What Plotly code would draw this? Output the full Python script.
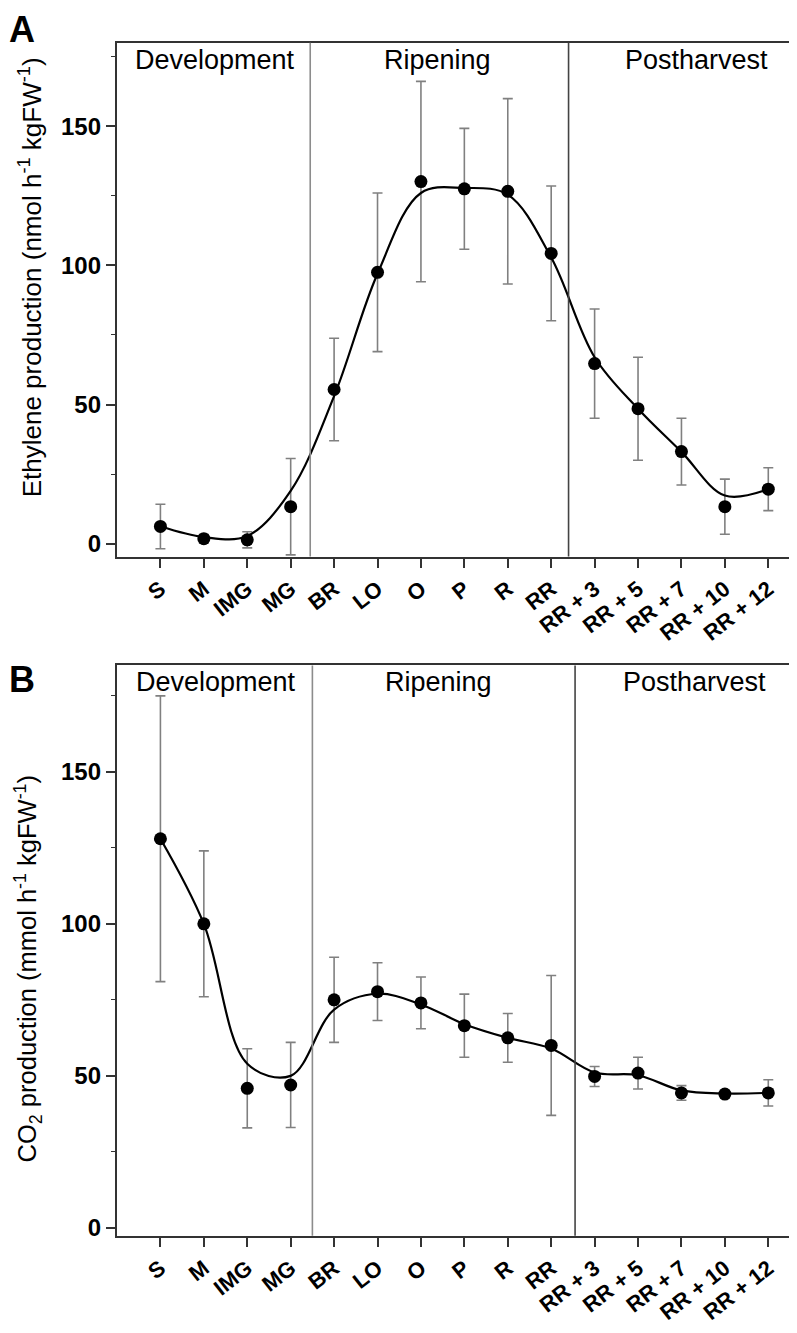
import plotly.graph_objects as go

stages = ["S", "M", "IMG", "MG", "BR", "LO", "O", "P", "R", "RR",
          "RR + 3", "RR + 5", "RR + 7", "RR + 10", "RR + 12"]
xpos = list(range(len(stages)))

# panel A - ethylene (nmol h-1 kgFW-1)
ethylene = [6.2, 1.8, 1.4, 13.3, 55.4, 97.5, 130.1, 127.5, 126.6, 104.3, 64.7, 48.5, 33.1, 13.3, 19.6]
ethylene_err = [8, 1.5, 2.9, 17.3, 18.4, 28.5, 36, 21.7, 33.3, 24.2, 19.6, 18.5, 12, 9.9, 7.7]
ethylene_fit = [6.3, 2.4, 2.8, 19, 53, 97, 126, 127.8, 125.4, 102.8, 67, 48.5, 33, 17.3, 19.6]

# panel B - CO2 (mmol h-1 kgFW-1)
co2 = [128, 100, 45.9, 47, 75, 77.7, 74, 66.5, 62.5, 60, 49.8, 50.9, 44.4, 44, 44.4]
co2_err = [47, 24, 13, 14, 14, 9.5, 8.5, 10.4, 8, 23, 3.3, 5.2, 2.4, 1.2, 4.3]
co2_fit = [128, 100, 54, 50, 71.8, 77, 73.5, 67, 62.5, 59, 51.1, 50.2, 45.2, 44.2, 44.4]

phases = ["Development", "Ripening", "Postharvest"]

# page has an 8px body margin, so the figure is drawn 8px smaller and positions shifted
OFF = 8
W, H = 797 - OFF, 1333 - 2 * OFF
FONT = "Liberation Sans, Arial, sans-serif"
frame = "#333333"


def px(x):
    return (x - OFF) / W


def py(y):
    return 1 - (y - OFF) / H


fig = go.Figure()


def add_panel(vals, err, fit, xa, ya):
    fig.add_trace(go.Scatter(
        x=xpos, y=vals, mode="markers", xaxis=xa, yaxis=ya,
        marker=dict(color="black", size=13),
        error_y=dict(type="data", array=err, visible=True,
                     color="#808080", thickness=1.6, width=5),
        showlegend=False))
    fig.add_trace(go.Scatter(
        x=xpos, y=fit, mode="lines", xaxis=xa, yaxis=ya,
        line=dict(color="black", width=2.2, shape="spline", smoothing=1.0),
        showlegend=False))


add_panel(ethylene, ethylene_err, ethylene_fit, "x", "y")
add_panel(co2, co2_err, co2_fit, "x2", "y2")

xdom = [px(117), px(790)]
ydomA = [py(562), py(43)]
ydomB = [py(1248), py(672)]

xaxis_style = dict(
    domain=xdom, range=[-1, 14.5], tickmode="array", tickvals=xpos, ticktext=stages,
    tickangle=-38, ticks="outside", ticklen=9, tickwidth=1.6, tickcolor=frame,
    showline=True, linecolor=frame, linewidth=2.4, mirror=True, showgrid=False,
    zeroline=False, tickfont=dict(family=FONT, size=22, color="black", weight="bold"),
)
yaxis_style = dict(
    tickvals=[0, 50, 100, 150], ticks="outside", ticklen=9, tickwidth=1.6, tickcolor=frame,
    minor=dict(tickvals=[25, 75, 125, 175], ticks="outside", ticklen=4, tickwidth=1.4, tickcolor=frame),
    showline=True, linecolor=frame, linewidth=2.4, mirror=True, showgrid=False,
    zeroline=False, tickfont=dict(family=FONT, size=24, color="black", weight="bold"),
)

fig.update_layout(
    width=W, height=H, margin=dict(l=0, r=0, t=0, b=0),
    paper_bgcolor="white", plot_bgcolor="white",
    xaxis=dict(xaxis_style, anchor="y"),
    yaxis=dict(yaxis_style, domain=ydomA, range=[-4.6, 180], anchor="x"),
    xaxis2=dict(xaxis_style, anchor="y2"),
    yaxis2=dict(yaxis_style, domain=ydomB, range=[-2.6, 185], anchor="x2"),
)

# phase dividers
for xr, yr, cuts in [("x", "y", [3.45, 9.4]), ("x2", "y2", [3.5, 9.55])]:
    fig.add_shape(type="line", xref=xr, yref=yr + " domain", x0=cuts[0], x1=cuts[0],
                  y0=0, y1=1, line=dict(color="#8c8c8c", width=1.6))
    fig.add_shape(type="line", xref=xr, yref=yr + " domain", x0=cuts[1], x1=cuts[1],
                  y0=0, y1=1, line=dict(color="#444444", width=1.6))

# phase labels
for xr, yr, centers in [("x", "y", [1.25, 6.38, 12.35]), ("x2", "y2", [1.29, 6.4, 12.3])]:
    for name, cx in zip(phases, centers):
        fig.add_annotation(text=name, xref=xr, yref=yr + " domain", x=cx, y=1.0,
                           xanchor="center", yanchor="top", showarrow=False,
                           font=dict(family=FONT, size=27, color="black"))

# panel letters
fig.add_annotation(text="<b>A</b>", xref="paper", yref="paper", x=0, y=1,
                   xanchor="left", yanchor="top", borderpad=0, showarrow=False,
                   font=dict(family=FONT, size=36, color="black"))
fig.add_annotation(text="<b>B</b>", xref="paper", yref="paper", x=0, y=py(686),
                   xanchor="left", yanchor="middle", borderpad=0, showarrow=False,
                   font=dict(family=FONT, size=36, color="black"))

# y axis titles
titles = [("Ethylene production (nmol h<sup>-1</sup> kgFW<sup>-1</sup>)", 30, 280, 26),
          ("CO<sub>2</sub> production (mmol h<sup>-1</sup> kgFW<sup>-1</sup>)", 28, 979, 25.5)]
for t, tx, ty, fs in titles:
    fig.add_annotation(text=t, xref="paper", yref="paper", x=px(tx), y=py(ty),
                       xanchor="center", yanchor="middle", textangle=-90, showarrow=False,
                       font=dict(family=FONT, size=fs, color="black"))

fig.write_html("out.html")
